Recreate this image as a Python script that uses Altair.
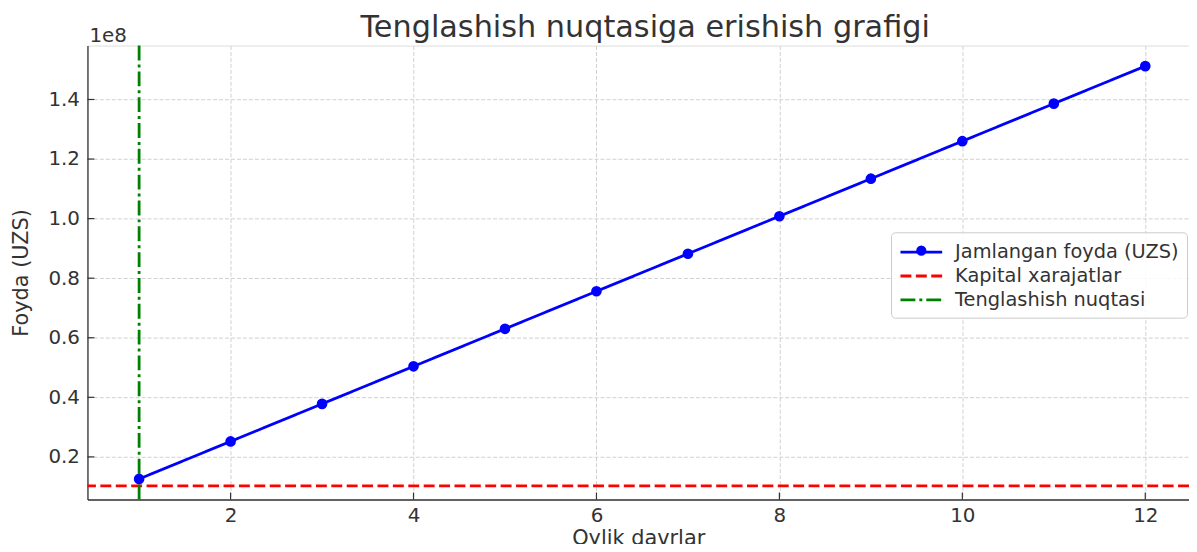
import altair as alt
import pandas as pd

# ---- data ----
months = [1, 2, 3, 4, 5, 6, 7, 8, 9, 10, 11, 12]
profit = [12_600_000, 25_200_000, 37_800_000, 50_400_000, 63_000_000, 75_600_000,
          88_200_000, 100_800_000, 113_400_000, 126_000_000, 138_600_000, 151_200_000]
capex = 10_300_000
breakeven_month = 1

series_names = ["Jamlangan foyda (UZS)", "Kapital xarajatlar", "Tenglashish nuqtasi"]
series_colors = ["#0000ff", "#ff0000", "#008000"]
series_dashes = [[1, 0], [11, 4.5], [15, 4, 3, 4]]

x_ticks = [2, 4, 6, 8, 10, 12]
y_ticks = [20_000_000, 40_000_000, 60_000_000, 80_000_000, 100_000_000, 120_000_000, 140_000_000]
offset_label = "1e8"

chart_title = "Tenglashish nuqtasiga erishish grafigi"
x_title = "Oylik davrlar"
y_title = "Foyda (UZS)"

FONT = "DejaVu Sans"
TXT = "#333333"

line_df = pd.DataFrame({"month": months, "profit": profit, "series": series_names[0]})
cap_df = pd.DataFrame({"profit": [capex], "series": [series_names[1]]})
be_df = pd.DataFrame({"month": [breakeven_month], "series": [series_names[2]]})
xt_df = pd.DataFrame({"month": x_ticks})
yt_df = pd.DataFrame({"profit": y_ticks})
off_df = pd.DataFrame({"t": [offset_label]})
title_df = pd.DataFrame({"t": [chart_title]})

W, H = 1109, 457

x_scale = alt.Scale(domain=[0.4353, 12.478], nice=False, zero=False)
y_scale = alt.Scale(domain=[5_700_000, 158_100_000], nice=False, zero=False)

x_axis = alt.Axis(values=x_ticks, title=x_title, tickSize=0, labelPadding=6,
                  labelFontSize=20, labelFont=FONT, labelColor=TXT,
                  titleFontSize=21, titleFont=FONT, titleColor=TXT, titleFontWeight="normal",
                  titleY=45, titleBaseline="alphabetic",
                  domainColor=TXT, domainWidth=1.3,
                  grid=True, gridColor="#d0d0d0", gridDash=[4, 2], gridWidth=1)
y_axis = alt.Axis(values=y_ticks, title=y_title, tickSize=0, labelPadding=8,
                  labelExpr="format(datum.value / 1e8, '.1f')",
                  labelFontSize=20, labelFont=FONT, labelColor=TXT,
                  titleFontSize=21, titleFont=FONT, titleColor=TXT, titleFontWeight="normal",
                  titleX=-66, titleBaseline="middle", titleAngle=270,
                  domainColor=TXT, domainWidth=1.3,
                  grid=True, gridColor="#d0d0d0", gridDash=[4, 2], gridWidth=1)

legend = alt.Legend(
    title=None, orient="none", legendX=809, legendY=188, zindex=1,
    labelFontSize=19.5, labelFont=FONT, labelColor=TXT, labelLimit=400,
    symbolType="M-2,0H2", symbolSize=441, symbolStrokeWidth=2.8,
    symbolOffset=10.5, labelOffset=22, rowPadding=2,
    padding=8, strokeColor="#cccccc", cornerRadius=4, fillColor="rgba(255,255,255,0.85)",
)
dot_legend = alt.Legend(
    title=None, orient="none", legendX=834, legendY=201, zindex=2,
    symbolType="circle", symbolSize=106, symbolStrokeWidth=0,
    labelExpr="''", labelFontSize=1, padding=0,
)

color = alt.Color("series:N", scale=alt.Scale(domain=series_names, range=series_colors), legend=legend)
dash = alt.StrokeDash("series:N", scale=alt.Scale(domain=series_names, range=series_dashes), legend=legend)

cap_rule = alt.Chart(cap_df).mark_rule(strokeWidth=2.8).encode(
    y=alt.Y("profit:Q", scale=y_scale, axis=y_axis), color=color, strokeDash=dash)

be_rule = alt.Chart(be_df).mark_rule(strokeWidth=2.8).encode(
    x=alt.X("month:Q", scale=x_scale, axis=x_axis), color=color, strokeDash=dash)

line = alt.Chart(line_df).mark_line(strokeWidth=2.8).encode(
    x=alt.X("month:Q", scale=x_scale, axis=x_axis),
    y=alt.Y("profit:Q", scale=y_scale, axis=y_axis),
    color=color, strokeDash=dash)

pts = alt.Chart(line_df).mark_point(filled=True, size=115, opacity=1, shape="circle").encode(
    x=alt.X("month:Q", scale=x_scale, axis=x_axis),
    y=alt.Y("profit:Q", scale=y_scale, axis=y_axis),
    fill=alt.Fill("series:N", scale=alt.Scale(domain=[series_names[0]], range=[series_colors[0]]),
                  legend=dot_legend))

ytk = alt.Chart(yt_df).mark_rule(color=TXT, strokeWidth=1.2).encode(
    y=alt.Y("profit:Q", scale=y_scale, axis=y_axis), x=alt.value(0), x2=alt.value(7))
xtk = alt.Chart(xt_df).mark_rule(color=TXT, strokeWidth=1.2).encode(
    x=alt.X("month:Q", scale=x_scale, axis=x_axis), y=alt.value(H), y2=alt.value(H - 7))

off_txt = alt.Chart(off_df).mark_text(align="left", baseline="alphabetic", fontSize=20,
                                      font=FONT, color=TXT).encode(
    text="t:N", x=alt.value(2), y=alt.value(-4))

title_txt = alt.Chart(title_df).mark_text(align="center", baseline="alphabetic", fontSize=30.5,
                                          font=FONT, color=TXT).encode(
    text="t:N", x=alt.value(W / 2 + 7), y=alt.value(-9))

chart = alt.layer(ytk, xtk, cap_rule, be_rule, line, pts, off_txt, title_txt).properties(
    width=W, height=H,
    autosize=alt.AutoSizeParams(type="none"),
    padding={"left": 80, "top": 36, "right": 0, "bottom": 43},
).configure_view(stroke=None).configure(background="white")

chart.save("out.html", embed_options={"renderer": "svg", "actions": False})
